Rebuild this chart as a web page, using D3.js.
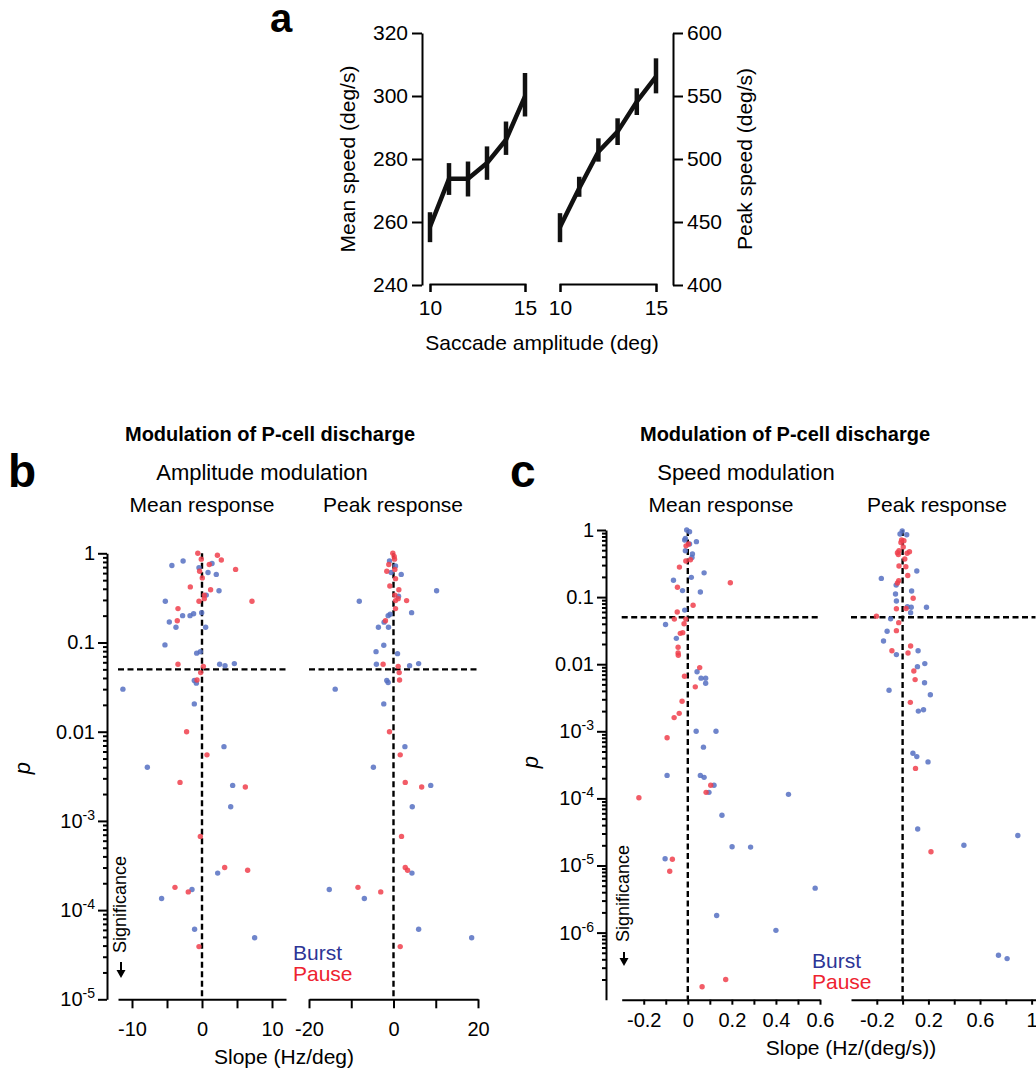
<!DOCTYPE html>
<html>
<head>
<meta charset="utf-8">
<script src="https://cdn.jsdelivr.net/npm/d3@7"></script>
<style>
  body { margin: 0; background: #fff; }
  svg { display: block; }
</style>
</head>
<body>
<svg id="fig" width="1036" height="1070"></svg>
<script>
// ---- panel a: saccade speed vs amplitude ----
const amplitude = [10, 11, 12, 13, 14, 15];
const meanSpeed = [258.5, 273.7, 273.7, 278.7, 286.1, 299.9];
const meanSpeedLo = [253.6, 268.6, 268.1, 273.4, 281.3, 293.5];
const meanSpeedHi = [263.1, 278.7, 279.2, 284.0, 291.9, 307.3];
const peakSpeed = [446, 476.7, 505.8, 521.7, 545.5, 565.3];
const peakSpeedLo = [434, 470, 497.9, 511.1, 534.9, 552.1];
const peakSpeedHi = [457, 485.9, 516.4, 532.3, 556.1, 579.9];
const meanSpeedTicks = [240, 260, 280, 300, 320];
const peakSpeedTicks = [400, 450, 500, 550, 600];
const ampTicks = [10, 15];

// ---- panel b: amplitude modulation, [slope Hz/deg, p] ----
const bMeanBurst = [[-2.7,0.82],[-4.3,0.73],[1.43,0.77],[-0.43,0.69],[0.86,0.61],[2.04,0.58],[2.43,0.38],[0.61,0.34],[-5.24,0.29],[-0.05,0.216],[-1.2,0.21],[-1.71,0.2],[-2.77,0.2],[-4.67,0.17],[-3.72,0.148],[0.52,0.148],[-5.29,0.094],[-0.24,0.079],[-0.76,0.076],[2.52,0.057],[3.29,0.055],[4.62,0.058],[-1.1,0.0375],[-0.81,0.035],[-11.3,0.030],[-1.1,0.0205],[3.14,0.0068],[-7.81,0.004],[4.38,0.0025],[4.1,0.00144],[2.24,2.6e-4],[-1.43,1.7e-4],[-5.77,1.35e-4],[-1.06,6.1e-5],[7.52,4.9e-5]];
const bMeanPause = [[-0.6,1.0],[2.2,0.95],[-0.1,0.86],[2.76,0.84],[1.04,0.75],[4.8,0.66],[-0.34,0.63],[0.04,0.53],[-1.67,0.42],[1.23,0.39],[0.33,0.34],[0.33,0.31],[-0.43,0.29],[7.14,0.29],[-3.43,0.24],[-3.53,0.175],[-3.43,0.057],[0.19,0.054],[-0.19,0.046],[-0.71,0.038],[-2.2,0.010],[0.71,0.0055],[-3.14,0.0027],[6.19,0.0024],[-0.24,6.7e-4],[3.24,3.0e-4],[6.52,2.8e-4],[-3.86,1.8e-4],[-1.96,1.6e-4],[-0.43,3.9e-5]];
const bPeakBurst = [[-0.95,0.82],[0.48,0.72],[-0.56,0.61],[1.83,0.58],[10.2,0.38],[1.19,0.33],[-8.1,0.29],[4.29,0.216],[-0.79,0.207],[-1.27,0.2],[-2.22,0.169],[-3.57,0.148],[-1.19,0.148],[-2.3,0.093],[-4.13,0.079],[0.95,0.075],[-4.05,0.057],[3.81,0.055],[5.95,0.058],[-1.59,0.0375],[-1.27,0.0356],[-13.8,0.030],[-2.3,0.0205],[2.7,0.0068],[-4.76,0.004],[8.81,0.0025],[4.44,0.00144],[4.37,2.6e-4],[-15.2,1.7e-4],[-6.9,1.35e-4],[5.95,6.1e-5],[18.5,4.9e-5]];
const bPeakPause = [[-0.16,1.0],[0.16,0.92],[0.24,0.86],[-1.11,0.75],[0.32,0.66],[-1.59,0.63],[0.48,0.52],[-0.87,0.43],[1.27,0.39],[0.32,0.34],[1.11,0.31],[0.48,0.295],[3.1,0.295],[0.48,0.24],[-1.9,0.175],[-2.46,0.057],[1.11,0.054],[1.35,0.046],[1.43,0.038],[-0.95,0.010],[1.59,0.0055],[2.78,0.0027],[6.67,0.0024],[1.9,6.7e-4],[2.78,3.0e-4],[3.33,2.8e-4],[-8.41,1.8e-4],[-3.02,1.6e-4],[1.59,3.9e-5]];
const bMeanTicks = [-10, -5, 0, 5, 10];
const bMeanLabels = [-10, 0, 10];
const bPeakTicks = [-20, -10, 0, 10, 20];
const bPeakLabels = [-20, 0, 20];

// ---- panel c: speed modulation, [slope Hz/(deg/s), p] ----
const cMeanBurst = [[-0.005,1.0],[0.008,0.94],[-0.011,0.75],[-0.014,0.71],[0.039,0.67],[0.008,0.62],[-0.011,0.49],[0.021,0.44],[0.019,0.39],[0.074,0.23],[0.016,0.197],[-0.065,0.178],[-0.024,0.125],[0.057,0.119],[-0.014,0.064],[-0.101,0.039],[-0.052,0.0243],[0.042,0.0077],[0.06,0.0062],[0.081,0.0062],[0.081,0.0052],[0.038,1.0e-3],[0.128,1.0e-3],[0.071,5.8e-4],[-0.094,2.2e-4],[0.057,2.2e-4],[0.074,2.06e-4],[0.457,1.15e-4],[0.119,1.57e-4],[0.096,1.23e-4],[0.155,5.6e-5],[0.201,1.9e-5],[0.285,1.88e-5],[-0.103,1.26e-5],[0.578,4.6e-6],[0.131,1.8e-6],[0.4,1.08e-6]];
const cMeanPause = [[0.003,0.62],[-0.008,0.58],[0.012,0.36],[-0.009,0.345],[-0.038,0.28],[0.193,0.164],[-0.047,0.14],[0.024,0.0755],[-0.048,0.06],[-0.061,0.047],[-0.009,0.047],[-0.017,0.040],[-0.023,0.0295],[-0.034,0.0288],[-0.044,0.0179],[-0.044,0.0147],[-0.043,0.0136],[0.054,0.0089],[-0.015,0.0066],[0.034,0.0046],[-0.026,0.0028],[-0.039,0.00185],[-0.062,0.0016],[-0.094,8.0e-4],[-0.222,1.02e-4],[0.104,1.57e-4],[0.083,1.23e-4],[-0.07,1.24e-5],[-0.082,8.2e-6],[0.172,2.0e-7],[0.065,1.56e-7]];
const cPeakBurst = [[-0.003,0.97],[-0.02,0.87],[0.032,0.85],[0.11,0.245],[-0.165,0.19],[-0.05,0.151],[0.07,0.123],[-0.055,0.111],[-0.048,0.0875],[0.037,0.072],[0.067,0.0705],[0.185,0.0705],[0.062,0.0586],[-0.093,0.0476],[-0.12,0.0309],[-0.148,0.0222],[0.12,0.0159],[-0.048,0.0139],[0.172,0.0102],[0.115,0.0092],[0.17,0.0053],[0.215,0.0035],[-0.105,0.0041],[0.162,0.0021],[0.122,0.002],[0.08,4.7e-4],[0.11,4.2e-4],[0.197,3.5e-4],[0.117,3.5e-5],[0.893,2.8e-5],[0.475,2.0e-5],[0.743,4.6e-7],[0.81,4.1e-7]];
const cPeakPause = [[-0.008,0.71],[0.01,0.69],[-0.013,0.65],[0.005,0.56],[-0.028,0.49],[-0.04,0.46],[0.053,0.475],[0.035,0.45],[-0.033,0.43],[0.017,0.37],[-0.028,0.29],[0.025,0.284],[0.04,0.21],[-0.03,0.176],[-0.04,0.162],[0.082,0.096],[-0.048,0.067],[0.027,0.0676],[-0.203,0.052],[-0.03,0.0416],[-0.048,0.0316],[0.062,0.0187],[-0.083,0.0159],[0.042,0.0147],[0.087,0.0079],[0.097,0.0059],[0.06,0.0027],[0.1,2.8e-4],[0.22,1.6e-5]];
const cMeanTicks = [-0.2, -0.1, 0, 0.1, 0.2, 0.3, 0.4, 0.5, 0.6];
const cMeanLabels = [-0.2, 0, 0.2, 0.4, 0.6];
const cPeakTicks = [-0.2, 0, 0.2, 0.4, 0.6, 0.8, 1];
const cPeakLabels = [-0.2, 0.2, 0.6, 1];
const pThreshold = 0.05;

const FONT = "'Liberation Sans', Arial, Helvetica, sans-serif";
const BLUE = "#5670c2", RED = "#f0404c";

const svg = d3.select("#fig");

function addText(parent, x, y, str, o = {}) {
  const t = parent.append("text")
      .attr("font-family", FONT)
      .attr("font-size", o.size || 20)
      .attr("text-anchor", o.anchor || "start")
      .attr("fill", o.fill || "#000")
      .text(str);
  if (o.weight) t.attr("font-weight", o.weight);
  if (o.italic) t.attr("font-style", "italic");
  if (o.rotate) t.attr("transform", `translate(${x},${y}) rotate(${o.rotate})`);
  else t.attr("x", x).attr("y", y);
  return t;
}

function styleAxis(g, size) {
  g.attr("font-family", FONT).attr("font-size", size || 20);
  g.selectAll(".domain, .tick line").attr("stroke", "#000").attr("stroke-width", 2);
  g.selectAll(".tick text").attr("fill", "#000");
}

// ================= panel a =================
const xA1 = d3.scaleLinear().domain([10, 15]).range([430, 525]);
const yA1 = d3.scaleLinear().domain([240, 320]).range([285, 33]);
const xA2 = d3.scaleLinear().domain([10, 15]).range([560, 656]);
const yA2 = d3.scaleLinear().domain([400, 600]).range([285, 33]);

svg.append("g").attr("transform", "translate(422,0)")
    .call(d3.axisLeft(yA1).tickValues(meanSpeedTicks).tickSize(10).tickSizeOuter(0).tickPadding(4))
    .call(g => styleAxis(g, 21));
svg.append("g").attr("transform", "translate(673,0)")
    .call(d3.axisRight(yA2).tickValues(peakSpeedTicks).tickSize(10).tickSizeOuter(0).tickPadding(4))
    .call(g => styleAxis(g, 21));
[xA1, xA2].forEach(x => {
  svg.append("g").attr("transform", "translate(0,284)")
      .call(d3.axisBottom(x).tickValues(ampTicks).tickSize(8).tickSizeOuter(8).tickPadding(8)
        .tickFormat(d3.format("d")))
      .call(g => styleAxis(g, 21));
});

function speedCurve(x, y, mid, lo, hi) {
  const g = svg.append("g");
  g.selectAll("line.err").data(amplitude).join("line")
      .attr("class", "err")
      .attr("x1", d => x(d)).attr("x2", d => x(d))
      .attr("y1", (d, i) => y(lo[i])).attr("y2", (d, i) => y(hi[i]))
      .attr("stroke", "#111").attr("stroke-width", 4.5);
  g.append("path")
      .datum(amplitude)
      .attr("fill", "none").attr("stroke", "#111").attr("stroke-width", 4.5)
      .attr("stroke-linejoin", "round")
      .attr("d", d3.line().x(d => x(d)).y((d, i) => y(mid[i])));
}
speedCurve(xA1, yA1, meanSpeed, meanSpeedLo, meanSpeedHi);
speedCurve(xA2, yA2, peakSpeed, peakSpeedLo, peakSpeedHi);

addText(svg, 270, 32, "a", { size: 40, weight: "bold" });
addText(svg, 355, 159, "Mean speed (deg/s)", { size: 21, anchor: "middle", rotate: -90 });
addText(svg, 752, 159, "Peak speed (deg/s)", { size: 21, anchor: "middle", rotate: -90 });
addText(svg, 542, 350, "Saccade amplitude (deg)", { size: 21, anchor: "middle" });

// ================= scatter panels =================
function minorLogTicks(lo, hi) {
  const out = [];
  for (let e = lo; e < hi; e++) for (let m = 2; m <= 9; m++) out.push(m * Math.pow(10, e));
  return out;
}

function logAxis(y, x0, majors, minors) {
  svg.append("g").attr("transform", `translate(${x0},0)`)
      .call(d3.axisLeft(y).tickValues(minors).tickSize(4).tickFormat(""))
      .call(g => g.select(".domain").remove())
      .call(g => styleAxis(g));
  const g = svg.append("g").attr("transform", `translate(${x0},0)`)
      .call(d3.axisLeft(y).tickValues(majors).tickSize(9).tickSizeOuter(0).tickPadding(3)
        .tickFormat(d => d >= 0.01 ? String(d) : ""))
      .call(g => styleAxis(g));
  g.selectAll(".tick text").filter(d => d < 0.01).each(function (d) {
    const t = d3.select(this);
    t.append("tspan").text("10");
    t.append("tspan").attr("dy", -8).attr("font-size", 14).text(Math.round(Math.log10(d)));
  });
}

function slopeAxis(x, yPos, ticks, labels, tickLen, pad) {
  svg.append("g").attr("transform", `translate(0,${yPos})`)
      .call(d3.axisBottom(x).tickValues(ticks).tickSize(tickLen).tickSizeOuter(0).tickPadding(pad)
        .tickFormat(d => labels.some(v => Math.abs(v - d) < 1e-9) ? String(d) : ""))
      .call(g => styleAxis(g));
}

function scatter(x, y, burst, pause, pBottom) {
  const g = svg.append("g");
  const dash = "6,3.5";
  g.append("line")
      .attr("x1", x(0)).attr("x2", x(0)).attr("y1", y(1)).attr("y2", y(pBottom))
      .attr("stroke", "#000").attr("stroke-width", 2.4).attr("stroke-dasharray", dash);
  g.append("line")
      .attr("x1", x.range()[0]).attr("x2", x.range()[1]).attr("y1", y(pThreshold)).attr("y2", y(pThreshold))
      .attr("stroke", "#000").attr("stroke-width", 2.4).attr("stroke-dasharray", dash);
  [[burst, BLUE], [pause, RED]].forEach(([data, col]) => {
    g.selectAll(null).data(data).join("circle")
        .attr("cx", d => x(d[0])).attr("cy", d => y(d[1]))
        .attr("r", 2.7).attr("fill", col).attr("fill-opacity", 0.85);
  });
}

function significance(xBase, yStart, arrowTop, arrowBottom) {
  addText(svg, xBase, yStart, "Significance", { size: 18, rotate: -90 });
  const ax = xBase - 5;
  svg.append("line").attr("x1", ax).attr("x2", ax).attr("y1", arrowTop).attr("y2", arrowBottom - 5)
      .attr("stroke", "#000").attr("stroke-width", 2);
  svg.append("path")
      .attr("d", `M${ax - 4.5},${arrowBottom - 8}L${ax + 4.5},${arrowBottom - 8}L${ax},${arrowBottom}Z`)
      .attr("fill", "#000");
}

function legend(x0, y0) {
  addText(svg, x0, y0, "Burst", { size: 21, fill: "#2e3596" });
  addText(svg, x0, y0 + 21, "Pause", { size: 21, fill: "#ee2430" });
}

// ---- panel b ----
const yB = d3.scaleLog().domain([1, 1e-5]).range([553.3, 999.3]);
const xB1 = d3.scaleLinear().domain([-12, 12]).range([118, 286]);
const xB2 = d3.scaleLinear().domain([-20, 20]).range([309, 478]);

logAxis(yB, 107, [1, 0.1, 0.01, 1e-3, 1e-4, 1e-5], minorLogTicks(-5, 0));
slopeAxis(xB1, yB(1e-5), bMeanTicks, bMeanLabels, 9, 14);
slopeAxis(xB2, yB(1e-5), bPeakTicks, bPeakLabels, 9, 14);
scatter(xB1, yB, bMeanBurst, bMeanPause, 1e-5);
scatter(xB2, yB, bPeakBurst, bPeakPause, 1e-5);

addText(svg, 270, 441, "Modulation of P-cell discharge", { size: 20, weight: "bold", anchor: "middle" });
addText(svg, 8, 487, "b", { size: 46, weight: "bold" });
addText(svg, 262, 480, "Amplitude modulation", { size: 22, anchor: "middle" });
addText(svg, 202, 512, "Mean response", { size: 21, anchor: "middle" });
addText(svg, 393, 512, "Peak response", { size: 21, anchor: "middle" });
addText(svg, 30, 768, "p", { size: 22, italic: true, anchor: "middle", rotate: -90 });
addText(svg, 284, 1064, "Slope (Hz/deg)", { size: 21, anchor: "middle" });
significance(126, 953, 962, 978);
legend(293, 960);

// ---- panel c ----
const yC = d3.scaleLog().domain([1, 1e-7]).range([530, 999.7]);
const xC1 = d3.scaleLinear().domain([-0.3, 0.6]).range([621.7, 820]);
const xC2 = d3.scaleLinear().domain([-0.4, 1.03]).range([851, 1035.5]);

logAxis(yC, 606, [1, 0.1, 0.01, 1e-3, 1e-4, 1e-5, 1e-6], minorLogTicks(-7, 0));
slopeAxis(xC1, yC(1e-7), cMeanTicks, cMeanLabels, 5, 8);
slopeAxis(xC2, yC(1e-7), cPeakTicks, cPeakLabels, 5, 8);
scatter(xC1, yC, cMeanBurst, cMeanPause, 1e-7);
scatter(xC2, yC, cPeakBurst, cPeakPause, 1e-7);

addText(svg, 785, 441, "Modulation of P-cell discharge", { size: 20, weight: "bold", anchor: "middle" });
addText(svg, 510, 487, "c", { size: 46, weight: "bold" });
addText(svg, 746, 480, "Speed modulation", { size: 22, anchor: "middle" });
addText(svg, 721, 512, "Mean response", { size: 21, anchor: "middle" });
addText(svg, 937, 512, "Peak response", { size: 21, anchor: "middle" });
addText(svg, 538, 762, "p", { size: 22, italic: true, anchor: "middle", rotate: -90 });
addText(svg, 851, 1055, "Slope (Hz/(deg/s))", { size: 21, anchor: "middle" });
significance(629, 942, 952, 966);
legend(812, 968);
</script>
</body>
</html>
